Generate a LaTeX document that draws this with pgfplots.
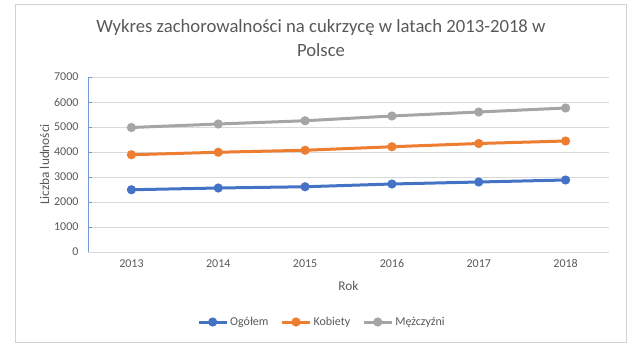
\documentclass[border=0pt]{standalone}
\usepackage{fontspec}
\setmainfont{Carlito}
\usepackage{pgfplots}
\pgfplotsset{compat=1.18}
\definecolor{cblue}{RGB}{68,114,196}
\definecolor{corange}{RGB}{237,125,49}
\definecolor{cgray}{RGB}{165,165,165}
\definecolor{ctext}{RGB}{89,89,89}
\definecolor{cgrid}{RGB}{217,217,217}
\definecolor{caxis}{RGB}{120,150,212}
\definecolor{cframe}{RGB}{210,210,210}
\begin{document}
\begin{tikzpicture}
\path[use as bounding box] (0pt,0pt) rectangle (640pt,351pt);
\draw[cframe,line width=1pt] (15pt,9pt) rectangle (626pt,346pt);
\begin{axis}[
  at={(88pt,99pt)}, anchor=south west,
  scale only axis, width=521pt, height=175pt,
  xmin=-0.5, xmax=5.5, ymin=0, ymax=7000,
  xtick={0,1,2,3,4,5},
  xticklabels={2013,2014,2015,2016,2017,2018},
  ytick={0,1000,...,7000},
  axis x line*=bottom, axis y line*=left,
  x axis line style={draw=cgrid,line width=0.8pt},
  y axis line style={draw=caxis,line width=0.8pt},
  major x tick style={draw=none},
  major y tick style={draw=caxis,line width=0.8pt},
  tick align=inside, major tick length=4pt,
  ymajorgrids, grid style={cgrid,line width=0.8pt},
  tick label style={font=\fontsize{12}{14}\selectfont, text=ctext},
  /pgf/number format/assume math mode=true,
  /pgf/number format/1000 sep={},
  yticklabel style={xshift=-6pt},
  xticklabel style={yshift=-4pt},
  xlabel={Rok}, ylabel={Liczba ludności},
  label style={font=\fontsize{13.3}{15}\selectfont, text=ctext},
  xlabel style={yshift=-7pt},
  ylabel style={yshift=-2pt},
  legend columns=3,
  legend style={at={(0.449,-0.40)}, anchor=center, draw=none, fill=none,
    font=\fontsize{12}{14}\selectfont, text=ctext,
    /tikz/every even column/.append style={column sep=10pt},
    inner xsep=0pt},
  legend image code/.code={\draw[mark repeat=2,mark phase=2,#1] plot coordinates {(0pt,0pt) (14pt,0pt) (28pt,0pt)};},
  every axis plot/.append style={line width=3pt, mark=*, mark size=3pt},
  clip=false,
]
\addplot[cblue, mark options={fill=cblue,draw=cblue}] coordinates {(0,2490) (1,2560) (2,2610) (3,2720) (4,2800) (5,2880)};
\addplot[corange, mark options={fill=corange,draw=corange}] coordinates {(0,3890) (1,3990) (2,4070) (3,4210) (4,4340) (5,4440)};
\addplot[cgray, mark options={fill=cgray,draw=cgray}] coordinates {(0,4980) (1,5120) (2,5250) (3,5440) (4,5600) (5,5760)};
\legend{Ogółem, Kobiety, Mężczyźni}
\end{axis}
\node[text=ctext, font=\fontsize{18.7}{22}\selectfont] at (321pt,323pt) {Wykres zachorowalności na cukrzycę w latach 2013-2018 w};
\node[text=ctext, font=\fontsize{18.7}{22}\selectfont] at (321pt,301pt) {Polsce};
\end{tikzpicture}
\end{document}
